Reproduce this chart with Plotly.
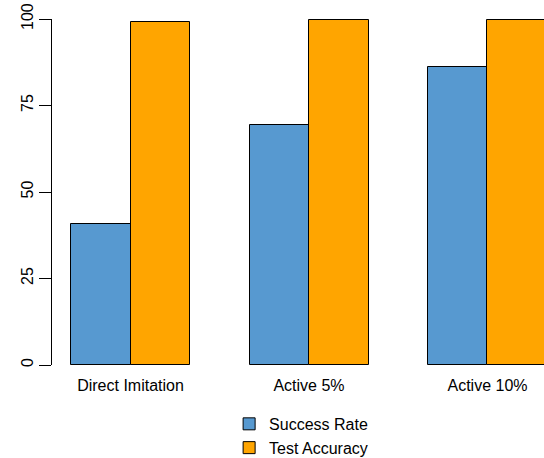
import plotly.graph_objects as go

categories = ["Direct Imitation", "Active 5%", "Active 10%"]
success_rate = [40.8, 69.4, 86.2]
test_accuracy = [99.2, 99.6, 99.6]
series_names = ["Success Rate", "Test Accuracy"]
y_ticks = [0, 25, 50, 75, 100]

colors = ["#5799D0", "#FFA500"]

# R barplot(beside=TRUE) layout: group g occupies [3g+1, 3g+3]
centers = [3 * i + 2 for i in range(len(categories))]
x_left = [c - 0.5 for c in centers]
x_right = [c + 0.5 for c in centers]

fig = go.Figure()
for name, vals, xs, col in zip(series_names, [success_rate, test_accuracy], [x_left, x_right], colors):
    fig.add_trace(go.Bar(
        x=xs, y=vals, name=name, width=1.0,
        marker=dict(color=col, line=dict(color="black", width=1)),
    ))

fig.update_layout(
    template="none",
    width=544, height=458,
    margin=dict(l=52, r=0, t=19, b=93, autoexpand=False),
    paper_bgcolor="white", plot_bgcolor="white",
    font=dict(family="Liberation Sans, Arial, sans-serif", size=16, color="black"),
    bargap=0, barmode="overlay",
    showlegend=True,
    legend=dict(x=0.36, y=-0.205, xanchor="left", yanchor="middle",
                orientation="v", font=dict(size=16), tracegroupgap=0,
                itemwidth=30, bgcolor="rgba(0,0,0,0)"),
    xaxis=dict(range=[0.68, 8.95], showline=False, showgrid=False, zeroline=False,
               automargin=False, ticklabeloverflow="allow",
               tickmode="array", tickvals=centers, ticktext=categories,
               ticks="", ticklabelstandoff=9, fixedrange=True),
    yaxis=dict(range=[0, 100], showline=True, linecolor="black", linewidth=1,
               showgrid=False, zeroline=False, automargin=False,
               ticklabeloverflow="allow",
               tickmode="array", tickvals=y_ticks, ticktext=[str(t) for t in y_ticks],
               ticks="outside", ticklen=12, tickcolor="black", tickwidth=1,
               tickangle=-90, ticklabelstandoff=0),
)

# remove the browser's default 8px body margin so the figure fills the window
fig.write_html("out.html", config={"displayModeBar": False},
               post_script="document.body.style.margin='0';document.body.style.overflow='hidden';")
